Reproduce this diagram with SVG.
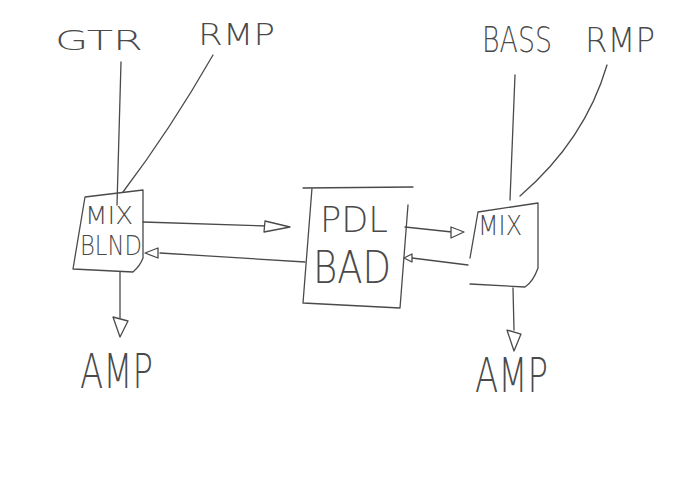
<svg xmlns="http://www.w3.org/2000/svg" width="700" height="487" viewBox="0 0 700 487">
<style>
.s{fill:none;stroke:#4a4a4a;stroke-width:1.3;stroke-linecap:round;stroke-linejoin:round}
.h{fill:#fff;stroke:#4a4a4a;stroke-width:1.3;stroke-linejoin:round}
.t{font-family:"DejaVu Sans","Liberation Sans",sans-serif;font-weight:200;fill:#4a4a4a}
</style>
<rect width="700" height="487" fill="#fff"/>
<g id="connectors">
<path class="s" d="M121,62 L117,205"/>
<path class="s" d="M213,55 Q170,130 123,192"/>
<path class="s" d="M515,75 L510,200"/>
<path class="s" d="M607,65 Q585,140 520,196"/>
<path class="s" d="M143,222 L268,226"/>
<path class="h" d="M265,221 L290,227 L264,232 Z"/>
<path class="s" d="M305,262 L160,253"/>
<path class="h" d="M158,248 L145,253 L158,258 Z"/>
<path class="s" d="M405,227 L452,232"/>
<path class="h" d="M451,227 L464,232 L451,238 Z"/>
<path class="s" d="M468,265 L412,258"/>
<path class="h" d="M412,254 L404,258 L412,262 Z"/>
<path class="s" d="M120,272 L120,318"/>
<path class="h" d="M113,317 L128,321 L120,337 Z"/>
<path class="s" d="M513,288 L514,330"/>
<path class="h" d="M507,330 L521,334 L514,351 Z"/>
</g>
<g id="gtr"><text class="t" x="55" y="50" font-size="27" textLength="88" lengthAdjust="spacingAndGlyphs">GTR</text></g>
<g id="rmp1"><text class="t" x="198" y="45" font-size="31" textLength="77" lengthAdjust="spacingAndGlyphs">RMP</text></g>
<g id="bass"><text class="t" x="482" y="52" font-size="36" textLength="70" lengthAdjust="spacingAndGlyphs">BASS</text></g>
<g id="rmp2"><text class="t" x="585" y="52" font-size="33" textLength="70" lengthAdjust="spacingAndGlyphs">RMP</text></g>
<g id="mixblnd">
<path class="s" d="M85,197 L143,190 L143,258 Q140,266 133,272 L73,269 Z"/>
<text class="t" x="85" y="224" font-size="24" textLength="48" lengthAdjust="spacingAndGlyphs">MIX</text>
<text class="t" x="80" y="255" font-size="26" textLength="62" lengthAdjust="spacingAndGlyphs">BLND</text>
</g>
<g id="pdlbad">
<path class="s" d="M303,188 L413,187 M312,188 L303,303 L400,308 L408,205"/>
<text class="t" x="320" y="232" font-size="36" textLength="68" lengthAdjust="spacingAndGlyphs">PDL</text>
<text class="t" x="313" y="283" font-size="44" textLength="78" lengthAdjust="spacingAndGlyphs">BAD</text>
</g>
<g id="mix2">
<path class="s" d="M478,212 L538,203 L538,268 Q533,282 525,287 L470,284 M478,212 L470,258"/>
<text class="t" x="478" y="235" font-size="27" textLength="44" lengthAdjust="spacingAndGlyphs">MIX</text>
</g>
<g id="amp1"><text class="t" x="80" y="388" font-size="48" textLength="73" lengthAdjust="spacingAndGlyphs">AMP</text></g>
<g id="amp2"><text class="t" x="475" y="392" font-size="48" textLength="73" lengthAdjust="spacingAndGlyphs">AMP</text></g>
</svg>
